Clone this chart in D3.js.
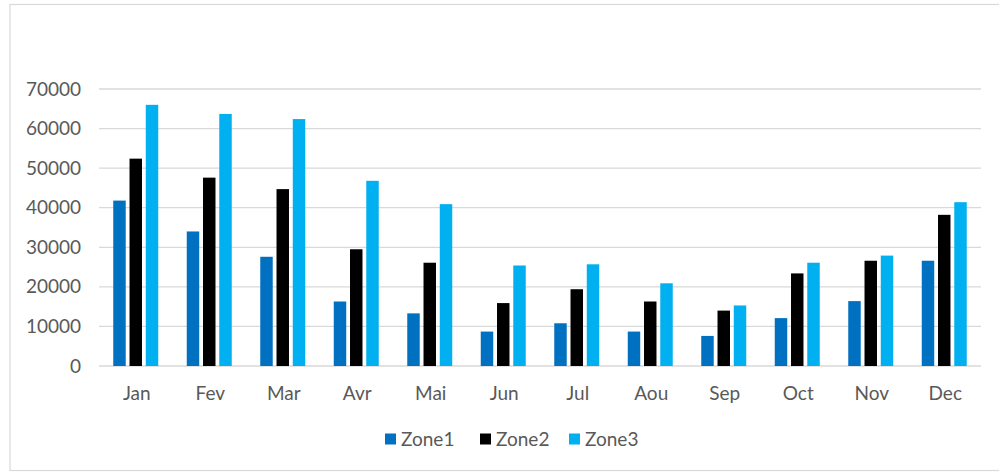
<!DOCTYPE html>
<html>
<head>
<meta charset="utf-8">
<script src="https://cdn.jsdelivr.net/npm/d3@7/dist/d3.min.js"></script>
<style>
  html, body { margin: 0; padding: 0; background: #fff; }
  svg text { font-family: Lato, "Open Sans", sans-serif; fill: #595959; }
</style>
</head>
<body>
<svg id="chart" width="999" height="472"></svg>
<script>
// Monthly values per zone
const months = ["Jan", "Fev", "Mar", "Avr", "Mai", "Jun", "Jul", "Aou", "Sep", "Oct", "Nov", "Dec"];
const zones = ["Zone1", "Zone2", "Zone3"];
const zone1 = [41800, 34000, 27600, 16300, 13300, 8700, 10800, 8700, 7600, 12100, 16400, 26600];
const zone2 = [52400, 47600, 44700, 29500, 26100, 15900, 19400, 16300, 14000, 23400, 26600, 38200];
const zone3 = [66000, 63700, 62400, 46800, 40900, 25400, 25700, 20900, 15300, 26100, 27900, 41400];
const yTicks = [0, 10000, 20000, 30000, 40000, 50000, 60000, 70000];
const colors = ["#0070C0", "#000000", "#00B0F0"];

const series = [zone1, zone2, zone3];
const rows = months.map((m, i) => ({ month: m, values: series.map(s => s[i]) }));

const FONT = "Lato, 'Open Sans', sans-serif";
const FONT_SIZE = 19;

const svg = d3.select("#chart");

// chart frame
svg.append("rect")
  .attr("x", 10).attr("y", 4.5)
  .attr("width", 995).attr("height", 466)
  .attr("fill", "#fff")
  .attr("stroke", "#d9d9d9").attr("stroke-width", 1.2);

const plot = { left: 99, right: 981, top: 89, bottom: 366 };

const x0 = d3.scaleBand()
  .domain(months)
  .range([plot.left, plot.right])
  .paddingInner(0.388)
  .paddingOuter(0.194);

const x1 = d3.scaleBand()
  .domain(d3.range(zones.length))
  .range([0, x0.bandwidth()])
  .paddingInner(0.233);

const y = d3.scaleLinear()
  .domain([0, 70000])
  .range([plot.bottom, plot.top]);

// horizontal gridlines
svg.append("g")
  .selectAll("line")
  .data(yTicks)
  .join("line")
  .attr("x1", plot.left).attr("x2", plot.right)
  .attr("y1", d => y(d)).attr("y2", d => y(d))
  .attr("stroke", "#d9d9d9").attr("stroke-width", 1.3);

// y axis labels
const yAxis = d3.axisLeft(y).tickValues(yTicks).tickFormat(d3.format("d")).tickSize(0).tickPadding(0);
const gy = svg.append("g")
  .attr("transform", `translate(81,0)`)
  .call(yAxis);
gy.select(".domain").remove();
gy.selectAll("text")
  .attr("font-size", FONT_SIZE)
  .attr("fill", "#595959")
  .style("font-family", FONT);

// bars
const groups = svg.append("g")
  .selectAll("g")
  .data(rows)
  .join("g")
  .attr("transform", d => `translate(${x0(d.month)},0)`);

groups.selectAll("rect")
  .data(d => d.values.map((v, k) => ({ v, k })))
  .join("rect")
  .attr("x", d => x1(d.k))
  .attr("width", x1.bandwidth())
  .attr("y", d => y(d.v))
  .attr("height", d => y(0) - y(d.v))
  .attr("fill", d => colors[d.k]);

// x axis labels
const xAxis = d3.axisBottom(x0).tickSize(0).tickPadding(0);
const gx = svg.append("g")
  .attr("transform", `translate(1,400)`)
  .call(xAxis);
gx.select(".domain").remove();
gx.selectAll("text")
  .attr("y", 0)
  .attr("dy", 0)
  .attr("font-size", FONT_SIZE)
  .attr("fill", "#595959")
  .style("font-family", FONT);

// legend
const legendX = [385, 480, 569];
const legend = svg.append("g")
  .selectAll("g")
  .data(zones)
  .join("g")
  .attr("transform", (d, i) => `translate(${legendX[i]},446)`);

legend.append("rect")
  .attr("x", 0).attr("y", -12.5)
  .attr("width", 11).attr("height", 11)
  .attr("fill", (d, i) => colors[i]);

legend.append("text")
  .attr("x", 16)
  .attr("y", 0)
  .attr("font-size", FONT_SIZE)
  .text(d => d);
</script>
</body>
</html>
